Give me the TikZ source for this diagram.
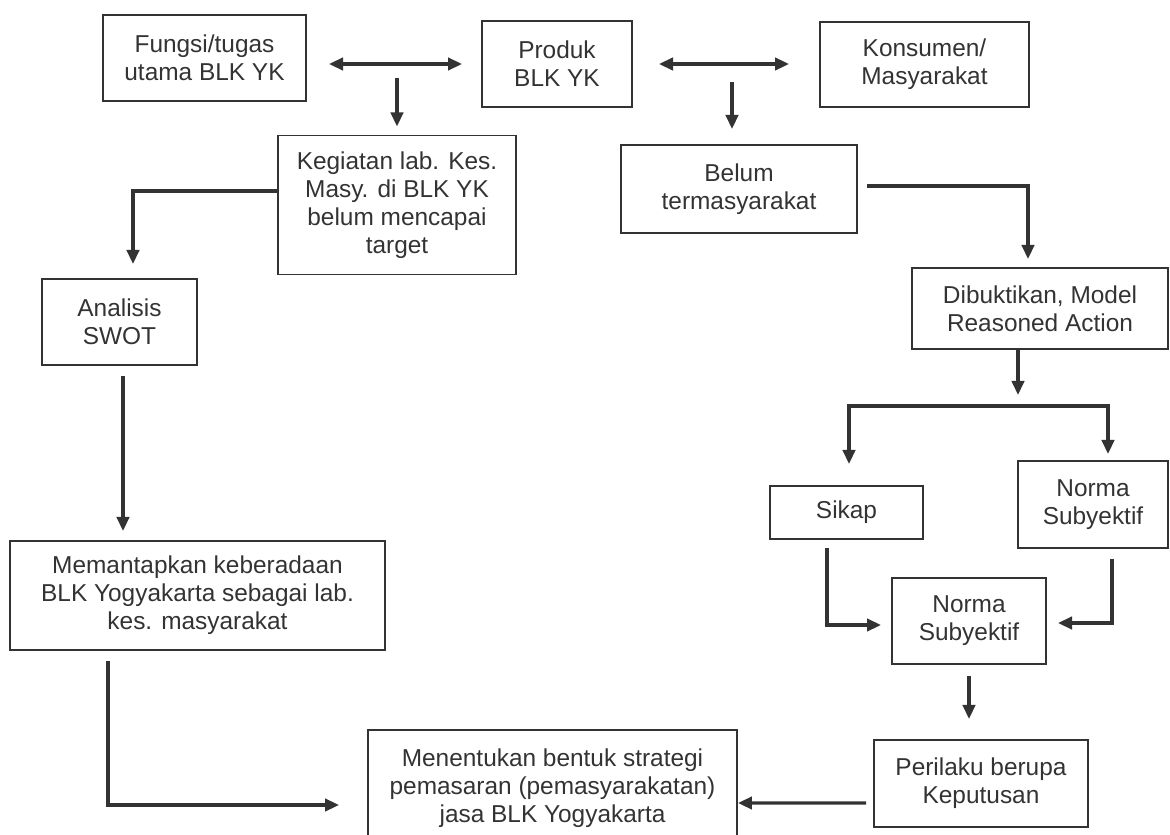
\documentclass[tikz,border=0pt]{standalone}
\usepackage{fontspec}
\setmainfont{Liberation Sans}
\usetikzlibrary{arrows.meta}
\definecolor{ink}{HTML}{333333}
\begin{document}
\begin{tikzpicture}[x=0.02cm,y=-0.02cm,
  box/.style={draw=ink,line width=1.1pt,align=center,inner sep=2pt,text=ink,font=\fontsize{13.9}{16}\selectfont},
  arr/.style={draw=ink,line width=1.8pt,-{Triangle[length=8pt,width=7pt]}},
  dbl/.style={draw=ink,line width=1.8pt,{Triangle[length=8pt,width=7pt]}-{Triangle[length=8pt,width=7pt]}}]
  \useasboundingbox (0,0) rectangle (1170,835);
  \clip (0,0) rectangle (1170,835);
	\node[box,minimum width=4.06cm,minimum height=1.72cm] (fungsi) at (204.5,58) {Fungsi/tugas\\utama BLK YK};
	\node[box,minimum width=3cm,minimum height=1.72cm] (produk) at (557,64) {Produk\\BLK YK};
	\node[box,minimum width=4.18cm,minimum height=1.7cm] (konsumen) at (924.5,64.5) {Konsumen/\\Masyarakat};
	\node[box,minimum width=4.76cm,minimum height=2.78cm] (kegiatan) at (397,205) {Kegiatan lab. Kes.\\Masy. di BLK YK\\belum mencapai\\target};
	\node[box,minimum width=4.72cm,minimum height=1.76cm] (belum) at (739,189) {Belum\\termasyarakat};
	\node[box,minimum width=3.1cm,minimum height=1.72cm] (analisis) at (119.5,322) {Analisis\\SWOT};
	\node[box,minimum width=5.12cm,minimum height=1.62cm] (dibuktikan) at (1040,308.5) {Dibuktikan, Model\\Reasoned Action};
	\node[box,minimum width=3.06cm,minimum height=1.06cm] (sikap) at (846.5,512.5) {Sikap};
	\node[box,minimum width=3cm,minimum height=1.74cm] (normakanan) at (1093,504.5) {Norma\\Subyektif};
	\node[box,minimum width=3.08cm,minimum height=1.72cm] (normatengah) at (969,621) {Norma\\Subyektif};
	\node[box,minimum width=7.5cm,minimum height=2.18cm] (memantapkan) at (197.5,595.5) {Memantapkan keberadaan\\BLK Yogyakarta sebagai lab.\\kes. masyarakat};
	\node[box,minimum width=4.28cm,minimum height=1.74cm] (perilaku) at (981,783.5) {Perilaku berupa\\Keputusan};
	\node[box,minimum width=7.38cm,minimum height=2.32cm] (menentukan) at (552.5,788) {Menentukan bentuk strategi\\pemasaran (pemasyarakatan)\\jasa BLK Yogyakarta};
	\coordinate (cabang) at (1018,406);
	\draw[dbl,shorten <=0.44cm,shorten >=0.38cm] (fungsi.east |- produk.west) -- (produk.west);
	\draw[dbl,shorten <=0.52cm,shorten >=0.6cm] (produk.east) -- (konsumen.west |- produk.east);
	\draw[arr,shorten <=0.4cm,shorten >=0.16cm] (kegiatan.north |- fungsi.east) -- (kegiatan.north);
	\draw[arr,shorten <=0.36cm,shorten >=0.3cm] ([xshift=-0.14cm]belum.north |- konsumen.west) -- ([xshift=-0.14cm]belum.north);
	\draw[arr,shorten >=0.28cm] ([yshift=0.28cm]kegiatan.west) -| ([xshift=0.27cm]analisis.north);
	\draw[arr,shorten <=0.2cm,shorten >=0.18cm] ([xshift=0.07cm]analisis.south) -- ([xshift=0.07cm]analisis.south |- memantapkan.north);
	\draw[arr,shorten <=0.2cm,shorten >=0.56cm] ([xshift=-1.79cm]memantapkan.south) |- ([yshift=-0.34cm]menentukan.west);
	\draw[arr,shorten <=0.18cm,shorten >=0.16cm] ([yshift=0.06cm]belum.east) -| ([xshift=-0.24cm]dibuktikan.north);
	\draw[arr,shorten >=0.22cm] (dibuktikan.south -| cabang) -- (cabang);
	\draw[arr,shorten >=0.42cm] (cabang) -| ([xshift=0.05cm]sikap.north);
	\draw[arr,shorten >=0.12cm] (cabang) -| ([xshift=0.3cm]normakanan.north);
	\draw[arr,shorten <=0.16cm,shorten >=0.2cm] ([xshift=-0.39cm]sikap.south) |- ([yshift=-0.08cm]normatengah.west);
	\draw[arr,shorten <=0.2cm,shorten >=0.22cm] ([xshift=0.38cm]normakanan.south) |- ([yshift=-0.04cm]normatengah.east);
	\draw[arr,shorten <=0.22cm,shorten >=0.4cm] (normatengah.south) -- (normatengah.south |- perilaku.north);
	\draw[arr,shorten <=0.14cm] ([yshift=-0.39cm]perilaku.west) -- ([yshift=-0.3cm]menentukan.east);
\end{tikzpicture}
\end{document}
